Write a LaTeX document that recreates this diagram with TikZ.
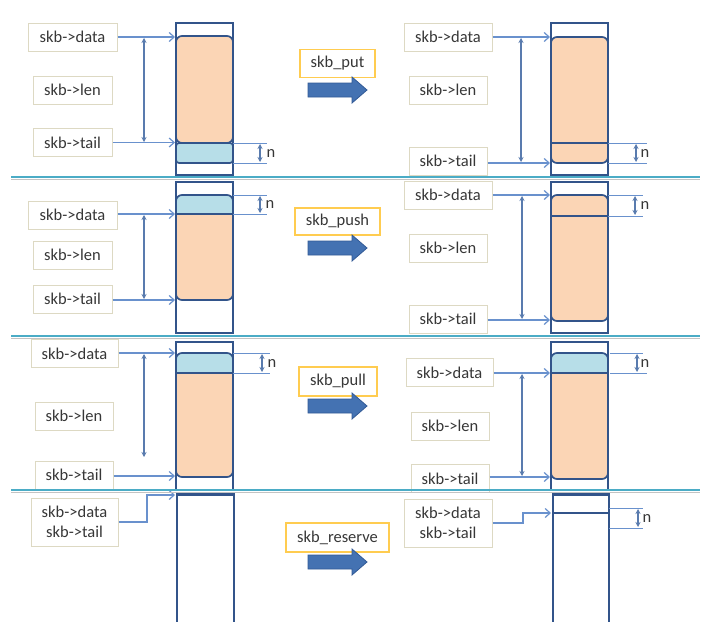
\documentclass[tikz,border=0pt]{standalone}
\usepackage{fontspec}
\setmainfont{Carlito}
\usetikzlibrary{arrows.meta}
\definecolor{colb}{RGB}{50,84,138}
\definecolor{orfill}{RGB}{251,213,181}
\definecolor{blfill}{RGB}{183,222,232}
\definecolor{ptrc}{RGB}{105,145,205}
\definecolor{lblb}{RGB}{221,217,195}
\definecolor{yelb}{RGB}{255,204,80}
\definecolor{arrf}{RGB}{68,114,178}
\definecolor{arrd}{RGB}{50,90,150}
\definecolor{sepc}{RGB}{75,172,198}
\definecolor{sepg}{RGB}{195,195,195}
\definecolor{txtc}{RGB}{55,55,55}
\tikzset{
  lbl/.style={draw=lblb, line width=1pt, fill=white, text=txtc, inner sep=0pt, minimum height=28pt, font=\fontsize{16.5}{20}\selectfont, align=center},
  opbox/.style={draw=yelb, line width=1.2pt, fill=white, text=txtc, inner sep=0pt, minimum height=28pt, font=\fontsize{16.5}{20}\selectfont},
  nlbl/.style={text=txtc, inner sep=0pt, font=\fontsize{16.5}{20}\selectfont},
  colbox/.style={draw=colb, line width=2pt, fill=white},
  blk/.style={draw=colb, line width=1.7pt},
  ptr/.style={draw=ptrc, line width=1.2pt, -{Straight Barb[length=5pt,width=9pt]}},
  dim/.style={draw=ptrc, line width=1.1pt, {Stealth[length=5pt,width=5pt]}-{Stealth[length=5pt,width=5pt]}, color=ptrc!85!black},
  ext/.style={draw=ptrc, line width=1pt},
  bigarr/.style={fill=arrf, draw=arrd, line width=0.8pt},
}
\begin{document}
\begin{tikzpicture}[x=1pt,y=-1pt]
\useasboundingbox (0,0) rectangle (720,621);
\fill[white] (0,0) rectangle (720,621);

% ================= panel 1 : skb_put =================
\draw[colbox] (176,23) rectangle (233,175);
\draw[blk, fill=orfill, rounded corners=6] (176,36) rectangle (233,143);
\draw[blk, fill=blfill, rounded corners=3] (176,143) rectangle (233,163);
\node[lbl, minimum width=89pt] (d1) at (72.5,37) {skb->data};
\node[lbl, minimum width=79pt] (l1) at (72.5,90) {skb->len};
\node[lbl, minimum width=79pt] (t1) at (72.5,142.5) {skb->tail};
\draw[ptr] (d1.east) -- (175,37);
\draw[ptr] (t1.east) -- (175,142.5);
\draw[dim] (144,38) -- (144,142);
\draw[ext] (233,143) -- (267,143);
\draw[ext] (233,163) -- (267,163);
\draw[dim] (260,144) -- (260,162);
\node[nlbl] (n1) at (271,153) {n};

\node[opbox, minimum width=75pt] (op1) at (337.5,63.5) {skb\_put};
\draw[bigarr] (308,83) -- (352,83) -- (352,77) -- (367,90) -- (352,103) -- (352,97) -- (308,97) -- cycle;

\draw[colbox] (551,23) rectangle (608,175);
\draw[blk, fill=orfill, rounded corners=6] (551,37) rectangle (608,163);
\draw[blk] (551,143) -- (608,143);
\node[lbl, minimum width=88pt] (d1r) at (448,37) {skb->data};
\node[lbl, minimum width=78pt] (l1r) at (448,90) {skb->len};
\node[lbl, minimum width=78pt] (t1r) at (448,161) {skb->tail};
\draw[ptr] (d1r.east) -- (550,37);
\draw[ptr] (t1r.east |- 0,163) -- (550,163);
\draw[dim] (521,38) -- (521,162);
\draw[ext] (608,143) -- (647,143);
\draw[ext] (608,163) -- (647,163);
\draw[dim] (636,144) -- (636,162);
\node[nlbl] (n1r) at (645,153) {n};

% ================= panel 2 : skb_push =================
\draw[colbox] (176,182) rectangle (233,333);
\begin{scope}
  \clip[rounded corners=6] (176,195) rectangle (233,300);
  \fill[orfill] (176,195) rectangle (233,300);
  \fill[blfill] (176,195) rectangle (233,214);
\end{scope}
\draw[blk, rounded corners=6] (176,195) rectangle (233,300);
\draw[blk] (176,214) -- (233,214);
\node[lbl, minimum width=89pt] (d2) at (72.5,215) {skb->data};
\node[lbl, minimum width=79pt] (l2) at (72.5,255) {skb->len};
\node[lbl, minimum width=79pt] (t2) at (72.5,299) {skb->tail};
\draw[ptr] (d2.east |- 0,214) -- (175,214);
\draw[ptr] (t2.east |- 0,300) -- (175,300);
\draw[dim] (144,215) -- (144,299);
\draw[ext] (233,195) -- (267,195);
\draw[ext] (233,214) -- (267,214);
\draw[dim] (260,196) -- (260,213);
\node[nlbl] (n2) at (270,204) {n};

\node[opbox, minimum width=85pt, minimum height=27pt] (op2) at (337.5,221.5) {skb\_push};
\draw[bigarr] (308,241) -- (352,241) -- (352,235) -- (367,248) -- (352,261) -- (352,255) -- (308,255) -- cycle;

\draw[colbox] (551,182) rectangle (608,333);
\draw[blk, fill=orfill, rounded corners=6] (551,195) rectangle (608,321);
\draw[blk] (551,216) -- (608,216);
\node[lbl, minimum width=88pt] (d2r) at (448,195) {skb->data};
\node[lbl, minimum width=78pt] (l2r) at (448,248) {skb->len};
\node[lbl, minimum width=78pt] (t2r) at (448,319) {skb->tail};
\draw[ptr] (d2r.east) -- (550,195);
\draw[ptr] (t2r.east |- 0,320) -- (550,320);
\draw[dim] (522,196) -- (522,319);
\draw[ext] (608,195) -- (643,195);
\draw[ext] (608,216) -- (643,216);
\draw[dim] (635,196) -- (635,215);
\node[nlbl] (n2r) at (645,205) {n};

% ================= panel 3 : skb_pull =================
\draw[colbox] (176,342) rectangle (233,490);
\begin{scope}
  \clip[rounded corners=6] (176,353) rectangle (233,477);
  \fill[orfill] (176,353) rectangle (233,477);
  \fill[blfill] (176,353) rectangle (233,373);
\end{scope}
\draw[blk, rounded corners=6] (176,353) rectangle (233,477);
\draw[blk] (176,373) -- (233,373);
\node[lbl, minimum width=87pt] (d3) at (74.5,353.5) {skb->data};
\node[lbl, minimum width=78pt] (l3) at (74,416) {skb->len};
\node[lbl, minimum width=78pt] (t3) at (74,475) {skb->tail};
\draw[ptr] (d3.east |- 0,353) -- (175,353);
\draw[ptr] (t3.east |- 0,476) -- (175,476);
\draw[dim] (144,354) -- (144,457);
\draw[ext] (233,353) -- (270,353);
\draw[ext] (233,373) -- (270,373);
\draw[dim] (262,354) -- (262,372);
\node[nlbl] (n3) at (272,363) {n};

\node[opbox, minimum width=78pt, minimum height=29pt] (op3) at (338,381.5) {skb\_pull};
\draw[bigarr] (308,399) -- (352,399) -- (352,393) -- (367,406) -- (352,419) -- (352,413) -- (308,413) -- cycle;

\draw[colbox] (551,342) rectangle (608,490);
\begin{scope}
  \clip[rounded corners=6] (551,353) rectangle (608,479);
  \fill[orfill] (551,353) rectangle (608,479);
  \fill[blfill] (551,353) rectangle (608,373);
\end{scope}
\draw[blk, rounded corners=6] (551,353) rectangle (608,479);
\draw[blk] (551,373) -- (608,373);
\node[lbl, minimum width=87pt] (d3r) at (449.5,372.5) {skb->data};
\node[lbl, minimum width=78pt] (l3r) at (450,426) {skb->len};
\node[lbl, minimum width=78pt] (t3r) at (450,478.5) {skb->tail};
\draw[ptr] (d3r.east |- 0,373) -- (550,373);
\draw[ptr] (t3r.east |- 0,477) -- (550,477);
\draw[dim] (522,374) -- (522,476);
\draw[ext] (610,353) -- (643,353);
\draw[ext] (610,373) -- (647,373);
\draw[dim] (637,354) -- (637,372);
\node[nlbl] (n3r) at (645,363) {n};

% ================= panel 4 : skb_reserve =================
\draw[colb, line width=2pt] (177,625) -- (177,493) -- (234,493) -- (234,625);
\draw[colb, line width=3pt] (177,494) -- (234,494);
\node[lbl, minimum width=87pt, minimum height=48pt] (dt4) at (74.5,522) {skb->data\\skb->tail};
\draw[ptr] (dt4.east |- 0,522) -- (147,522) -- (147,495) -- (175,495);

\node[opbox, minimum width=103pt, minimum height=29pt] (op4) at (337.5,537.5) {skb\_reserve};
\draw[bigarr] (308,555) -- (352,555) -- (352,549) -- (367,562) -- (352,575) -- (352,569) -- (308,569) -- cycle;

\draw[colb, line width=2pt] (553,625) -- (553,493) -- (609,493) -- (609,625);
\draw[colb, line width=3pt] (553,494) -- (609,494);
\draw[colb, line width=1.7pt] (553,513) -- (609,513);
\node[lbl, minimum width=88pt, minimum height=48pt] (dt4r) at (448,523) {skb->data\\skb->tail};
\draw[ptr] (dt4r.east |- 0,523) -- (523,523) -- (523,513) -- (551,513);
\draw[ext] (609,508) -- (643,508);
\draw[ext] (609,528) -- (643,528);
\draw[dim] (638,509) -- (638,527);
\node[nlbl] (n4r) at (647,518) {n};

% ================= separators =================
\foreach \yy in {177,336,490} {
  \draw[sepg, line width=1.5pt] (11,\yy+2.3) -- (700,\yy+2.3);
  \draw[sepc, line width=2.4pt] (11,\yy) -- (700,\yy);
}
\end{tikzpicture}
\end{document}
